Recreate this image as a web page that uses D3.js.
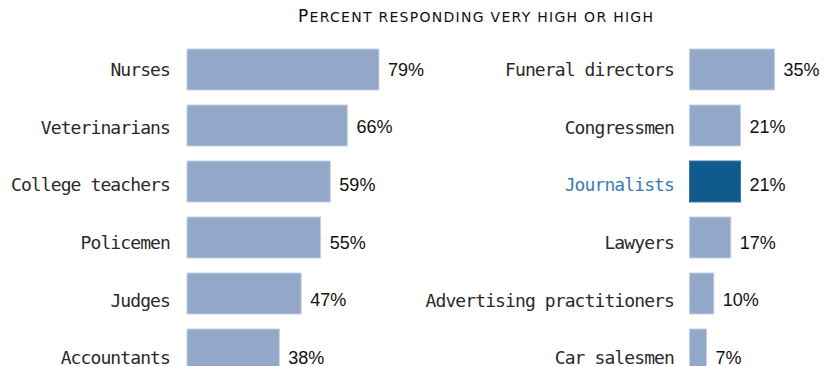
<!DOCTYPE html>
<html>
<head>
<meta charset="utf-8">
<script src="https://cdn.jsdelivr.net/npm/d3@7"></script>
<style>
  html, body { margin: 0; padding: 0; background: #fff; }
  svg { display: block; }
</style>
</head>
<body>
<svg id="chart" width="830" height="366"></svg>
<script>
// Share of respondents rating each occupation's honesty/ethics "very high" or "high"
const leftCategories = ["Nurses", "Veterinarians", "College teachers", "Policemen", "Judges", "Accountants"];
const leftValues = [79, 66, 59, 55, 47, 38];
const rightCategories = ["Funeral directors", "Congressmen", "Journalists", "Lawyers", "Advertising practitioners", "Car salesmen"];
const rightValues = [35, 21, 21, 17, 10, 7];
const highlight = "Journalists";
const titleLead = "P";
const titleRest = "ERCENT RESPONDING VERY HIGH OR HIGH";

const svg = d3.select("#chart");

// Bar rows and the slightly looser grid that the text sits on
const rowIndex = d3.range(leftCategories.length);
const y = d3.scaleBand().domain(rowIndex).range([41.5, 377.5]).paddingInner(0.268).paddingOuter(0.134);
const yText = d3.scalePoint().domain(rowIndex).range([69, 357.5]);

// One shared percent scale for both panels
const x = d3.scaleLinear().domain([0, 100]).range([0, 243]);

// Small-caps heading: large initial, smaller capitals after it
const t = svg.append("text")
  .attr("x", 298)
  .attr("y", 21.5)
  .attr("textLength", 355)
  .attr("lengthAdjust", "spacing")
  .style("font-family", "'DejaVu Sans', sans-serif")
  .style("fill", "#111");
t.append("tspan").style("font-size", "17px").text(titleLead);
t.append("tspan").style("font-size", "14px").text(titleRest);

function panel(categories, values, barX, labelX) {
  const rows = categories.map((c, i) => ({ c, v: values[i], i }));
  const g = svg.append("g");

  g.selectAll("rect").data(rows).join("rect")
    .attr("x", barX)
    .attr("y", d => y(d.i))
    .attr("width", d => x(d.v))
    .attr("height", y.bandwidth())
    .attr("fill", d => d.c === highlight ? "#105b8d" : "#93a7c8")
    .attr("stroke", d => d.c === highlight ? "#3d7aa6" : "#c6d1e3")
    .attr("stroke-width", 1);

  g.selectAll("text.cat").data(rows).join("text")
    .attr("class", "cat")
    .attr("x", labelX)
    .attr("y", d => yText(d.i) + 6.8)
    .attr("text-anchor", "end")
    .style("font-family", "'DejaVu Sans Mono', monospace")
    .style("font-size", "18px")
    .style("letter-spacing", "-0.9px")
    .style("fill", d => d.c === highlight ? "#3b7cb0" : "#2a2a2a")
    .text(d => d.c);

  g.selectAll("text.val").data(rows).join("text")
    .attr("class", "val")
    .attr("x", d => barX + x(d.v) + 9)
    .attr("y", d => yText(d.i) + 6.5)
    .style("font-family", "'Liberation Sans', Arial, sans-serif")
    .style("font-size", "18px")
    .style("fill", "#111")
    .text(d => d.v + "%");
}

panel(leftCategories, leftValues, 187, 170);
panel(rightCategories, rightValues, 689.5, 674);
</script>
</body>
</html>
